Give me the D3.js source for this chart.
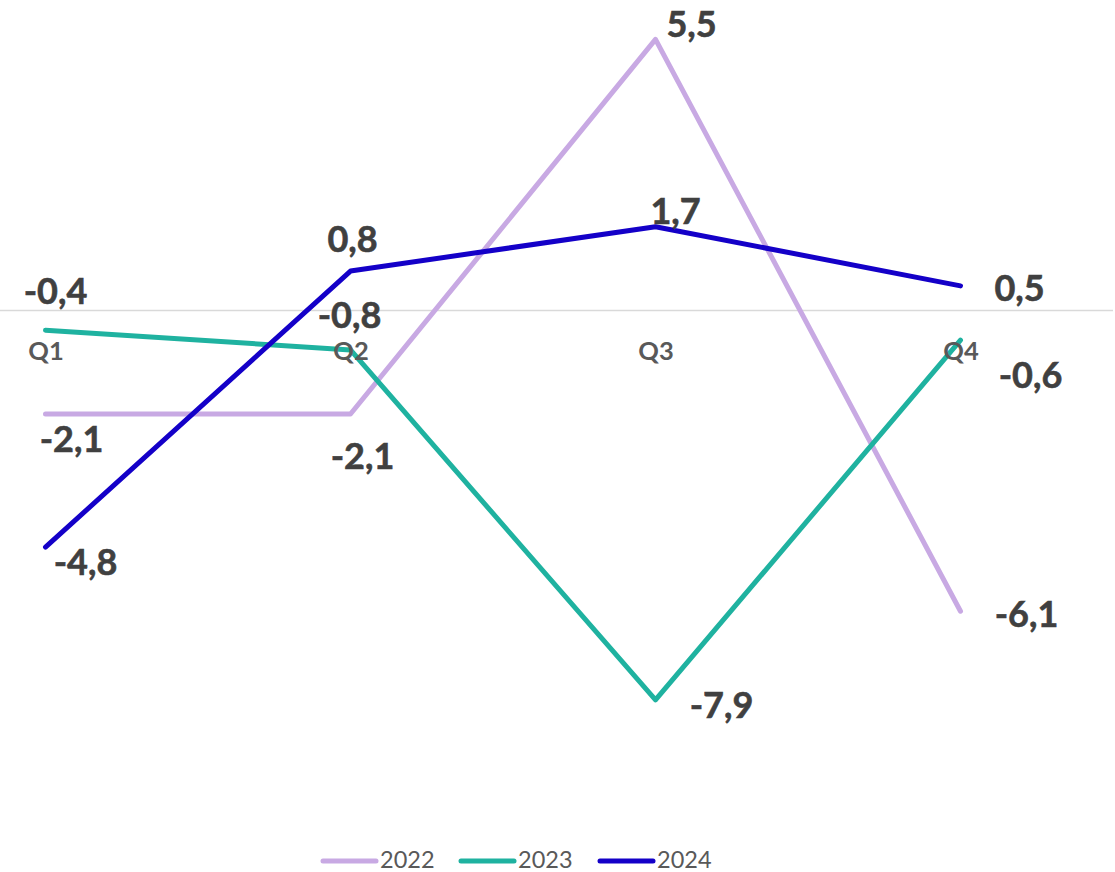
<!DOCTYPE html>
<html>
<head>
<meta charset="utf-8">
<script src="https://cdn.jsdelivr.net/npm/d3@7"></script>
<style>
  html, body { margin: 0; padding: 0; background: #ffffff; }
  svg { display: block; }
</style>
</head>
<body>
<svg id="chart" width="1115" height="872"></svg>
<script>
// Quarterly change by year
const quarters = ["Q1", "Q2", "Q3", "Q4"];
const years = ["2022", "2023", "2024"];
const values2022 = [-2.1, -2.1, 5.5, -6.1];
const values2023 = [-0.4, -0.8, -7.9, -0.6];
const values2024 = [-4.8, 0.8, 1.7, 0.5];

// Label placement: offset of each value label's centre from its point
const labelOffsets = [
  [[26, 25], [12, 42], [36, -15], [66, 3]],
  [[10, -39], [-1, -34], [66, 6], [70, 35]],
  [[40, 15], [2, -32], [20, -15], [59, 3]]
];
const colors = ["#C8A9E3", "#1FB2A0", "#1400C8"];

const series = years.map((y, i) => ({
  name: y,
  color: colors[i],
  offsets: labelOffsets[i],
  values: [values2022, values2023, values2024][i]
}));

const svg = d3.select("#chart");
const W = 1115;

const x = d3.scalePoint().domain(quarters).range([45.5, 960.5]).padding(0);
const y = d3.scaleLinear().domain([-10, 6]).range([803.5, 14.7]);

// zero line
svg.append("line")
  .attr("x1", 0).attr("x2", W - 2)
  .attr("y1", y(0)).attr("y2", y(0))
  .attr("stroke", "#d9d9d9").attr("stroke-width", 1.5);

const line = d3.line()
  .x((d, i) => x(quarters[i]))
  .y(d => y(d));

svg.append("g").selectAll("path")
  .data(series)
  .join("path")
  .attr("d", s => line(s.values))
  .attr("fill", "none")
  .attr("stroke", s => s.color)
  .attr("stroke-width", 5)
  .attr("stroke-linejoin", "round")
  .attr("stroke-linecap", "round");

// category axis along the zero line
const axis = svg.append("g")
  .attr("transform", `translate(0,${y(0)})`)
  .call(d3.axisBottom(x).tickSize(0));
axis.select(".domain").remove();
axis.selectAll("text")
  .attr("dy", null)
  .attr("y", 49.5)
  .attr("fill", "#595959")
  .attr("font-family", "Lato, 'Open Sans', sans-serif")
  .attr("font-weight", "bold")
  .attr("font-size", 25.5);

// value labels
const fmt = v => d3.format(".1f")(v).replace(".", ",").replace("−", "-");
const labels = svg.append("g");
series.forEach(s => {
  labels.selectAll(null)
    .data(s.values)
    .join("text")
    .attr("x", (d, i) => x(quarters[i]) + s.offsets[i][0])
    .attr("y", (d, i) => y(d) + s.offsets[i][1] + 12.5)
    .attr("text-anchor", "middle")
    .attr("fill", "#404040")
    .attr("font-family", "Lato, 'Open Sans', sans-serif")
    .attr("font-weight", "bold")
    .attr("font-size", 36)
    .attr("stroke", "#404040")
    .attr("stroke-width", 0.6)
    .text(d => fmt(d));
});

// legend
const legendItems = [
  { lx: 323, tx: 380 },
  { lx: 461, tx: 518 },
  { lx: 600, tx: 657 }
];
const legend = svg.append("g");
series.forEach((s, i) => {
  const p = legendItems[i];
  legend.append("line")
    .attr("x1", p.lx).attr("x2", p.lx + 53)
    .attr("y1", 861).attr("y2", 861)
    .attr("stroke", s.color)
    .attr("stroke-width", 5)
    .attr("stroke-linecap", "round");
  legend.append("text")
    .attr("x", p.tx).attr("y", 868)
    .attr("fill", "#595959")
    .attr("font-family", "Lato, 'Open Sans', sans-serif")
    .attr("font-size", 23.5)
    .text(s.name);
});
</script>
</body>
</html>
